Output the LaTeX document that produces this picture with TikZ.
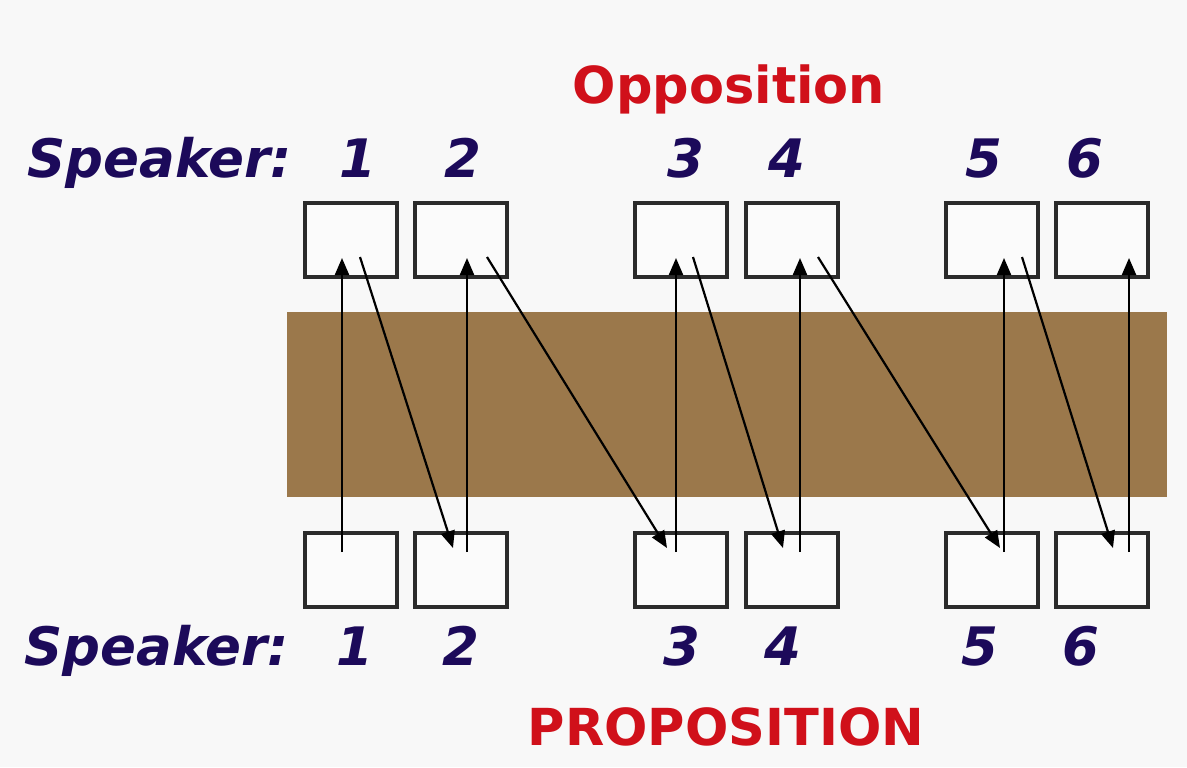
\documentclass[tikz,border=0pt]{standalone}
\usepackage{fontspec}
\setmainfont{DejaVu Sans}
\usetikzlibrary{arrows.meta, positioning, calc}
\definecolor{paper}{HTML}{F8F8F8}
\definecolor{floor}{HTML}{9B784B}
\definecolor{ink}{HTML}{1C0A5A}
\definecolor{title}{HTML}{D0101A}
\definecolor{edge}{HTML}{2B2B2B}

\tikzset{
  cell/.style={rectangle, draw=edge, line width=1.6pt, fill=paper!60!white, minimum width=46pt, minimum height=37pt, inner sep=0pt, outer sep=0pt},
  speaker/.style={text=ink, font=\fontsize{26.5}{30}\selectfont\bfseries\itshape, inner sep=0pt},
  heading/.style={text=title, font=\fontsize{25.5}{30}\selectfont\bfseries, inner sep=0pt, anchor=base},
  link/.style={line width=1.1pt, -{Triangle[length=8.5pt, width=7pt]}}
}

\begin{document}
\begin{tikzpicture}[x=0.5pt, y=-0.5pt]
        \useasboundingbox (0,0) rectangle (1187,767);
        \fill[paper] (0,0) rectangle (1187,767);
        \fill[floor] (287,312) rectangle (1167,497);

        % top row of boxes
        \node (t1) [cell] at (351,240) {};
        \node (t2) [cell, right=9pt of t1] {};
        \node (t3) [cell, right=64pt of t2] {};
        \node (t4) [cell, right=9.5pt of t3] {};
        \node (t5) [cell, right=54pt of t4] {};
        \node (t6) [cell, right=9pt of t5] {};

        % bottom row of boxes
        \foreach \i in {1,...,6}
            \node (b\i) [cell, below=128pt of t\i] {};

        \foreach \i/\u in {1/37,2/52,3/41,4/54,5/58,6/73}
            \draw [link] ($(b\i.north west)+(\u,19)$) -- ($(t\i.north west)+(\u,55)$);
        \foreach \i/\j/\s/\e in {1/2/55/38,2/3/72/32,3/4/58/37,4/5/72/54,5/6/76/57}
            \draw [link] ($(t\i.north west)+(\s,54)$) -- ($(b\j.north west)+(\e,15)$);

        % labels
        \node (opp) [heading] at (729,103) {Opposition};
        \node (prop) [heading] at (726,745) {PROPOSITION};
        \node (spkT) [speaker, anchor=base west] at (27,177) {Speaker:};
        \node (spkB) [speaker, anchor=base west] at (24,665) {Speaker:};
        \foreach \i/\x in {1/358,2/463,3/686,4/787,5/984,6/1085}
            \node (nT\i) [speaker, anchor=base] at (\x,177) {\i};
        \foreach \i/\x in {1/355,2/461,3/682,4/783,5/980,6/1081}
            \node (nB\i) [speaker, anchor=base] at (\x,665) {\i};
    \end{tikzpicture}
\end{document}
